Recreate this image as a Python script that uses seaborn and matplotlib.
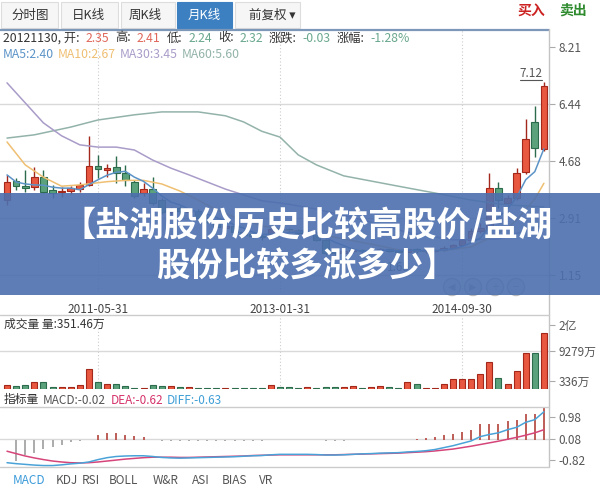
import numpy as np
import pandas as pd
import matplotlib
matplotlib.use("Agg")
import matplotlib.pyplot as plt
import matplotlib.colors as mcolors
from matplotlib.patches import Rectangle, Circle
from matplotlib.lines import Line2D
import seaborn as sns

# ---------------- data (monthly K-line, 2010-07 .. 2015-06) ----------------
open_ = [3.47, 4.06, 3.90, 3.87, 4.18, 3.78, 3.72, 3.75, 3.81, 3.94,
         4.53, 4.40, 4.49, 4.31, 4.03, 3.69, 3.81, 3.47, 3.10, 3.22,
         3.10, 3.12, 2.92, 2.80, 2.60, 2.66, 2.48, 2.42, 2.35, 2.32,
         2.56, 2.58, 2.54, 2.45, 2.48, 2.23, 1.88, 1.84, 1.88, 1.93,
         1.88, 1.92, 1.96, 1.90, 1.85, 1.95, 1.88, 1.90, 1.92, 2.00,
         2.08, 2.23, 2.50, 2.56, 3.84, 3.38, 3.53, 4.34, 5.89, 5.05]
high = [4.25, 4.15, 4.40, 4.49, 4.40, 3.94, 3.87, 3.90, 4.03, 5.46,
        4.87, 4.59, 4.84, 4.56, 4.09, 4.00, 4.18, 3.53, 3.25, 3.30,
        3.22, 3.18, 2.98, 2.84, 2.74, 2.70, 2.53, 2.46, 2.41, 2.62,
        2.60, 2.62, 2.58, 2.55, 2.52, 2.28, 1.92, 1.95, 1.98, 1.97,
        1.96, 2.00, 2.00, 1.94, 2.00, 1.98, 1.95, 1.97, 2.05, 2.12,
        2.28, 2.60, 2.75, 4.31, 4.03, 3.62, 4.46, 5.98, 6.39, 7.12]
low = [3.32, 3.78, 3.72, 3.78, 3.69, 3.53, 3.56, 3.66, 3.72, 3.90,
       4.15, 4.18, 4.00, 3.90, 3.53, 3.60, 3.32, 3.04, 3.00, 3.05,
       3.02, 2.88, 2.75, 2.60, 2.55, 2.44, 2.36, 2.30, 2.24, 2.28,
       2.45, 2.48, 2.40, 2.40, 2.20, 1.78, 1.78, 1.80, 1.84, 1.83,
       1.84, 1.88, 1.86, 1.80, 1.65, 1.84, 1.84, 1.86, 1.88, 1.96,
       2.05, 2.20, 2.45, 2.50, 3.22, 3.30, 3.47, 4.28, 4.80, 4.99]
close = [4.03, 3.90, 3.84, 4.18, 3.72, 3.69, 3.75, 3.84, 3.94, 4.53,
         4.43, 4.46, 4.31, 4.09, 3.60, 3.81, 3.38, 3.10, 3.16, 3.13,
         3.16, 2.92, 2.80, 2.64, 2.66, 2.48, 2.40, 2.35, 2.32, 2.56,
         2.52, 2.54, 2.45, 2.50, 2.24, 1.83, 1.84, 1.90, 1.93, 1.88,
         1.92, 1.96, 1.90, 1.85, 1.95, 1.88, 1.91, 1.93, 2.00, 2.08,
         2.23, 2.50, 2.62, 3.84, 3.47, 3.53, 4.31, 5.36, 5.08, 7.00]
volume = [1080, 720, 1080, 1600, 1600, 460, 460, 460, 1080, 4770,
          1600, 1340, 1340, 720, 300, 300, 1080, 640, 640, 460,
          400, 300, 250, 250, 250, 250, 250, 250, 351.46, 900,
          390, 390, 260, 390, 260, 460, 460, 460, 640, 260,
          460, 640, 460, 260, 1680, 1340, 310, 310, 1160, 2450,
          2450, 2450, 3740, 6500, 2630, 1160, 4510, 8820, 8820, 13790]
ma5 = [4.25, 4.03, 3.97, 3.94, 3.93, 3.87, 3.84, 3.84, 3.79, 3.95,
       4.10, 4.24, 4.33, 4.36, 4.18, 4.05, 3.84, 3.60, 3.41, 3.32,
       3.19, 3.09, 3.03, 2.93, 2.84, 2.70, 2.60, 2.48, 2.40, 2.42,
       2.43, 2.46, 2.48, 2.51, 2.45, 2.31, 2.17, 2.06, 1.95, 1.88,
       1.89, 1.92, 1.92, 1.90, 1.92, 1.91, 1.90, 1.90, 1.93, 1.96,
       2.03, 2.15, 2.29, 2.65, 2.93, 3.19, 3.55, 4.10, 4.35, 5.06]
ma10_idx = [0, 2, 4, 6, 8, 11, 13, 15, 17, 19, 21, 23, 25, 27, 28, 29, 31,
            33, 35, 37, 39, 41, 43, 45, 47, 49, 51, 53, 54, 55, 56, 57, 58, 59]
ma10 = [5.27, 4.56, 4.18, 3.90, 3.94, 4.04, 4.08, 4.08, 3.97, 3.75, 3.47,
        3.17, 2.94, 2.77, 2.67, 2.63, 2.53, 2.48, 2.37, 2.27, 2.16, 2.05,
        1.93, 1.90, 1.91, 1.94, 2.02, 2.29, 2.45, 2.61, 2.85, 3.19, 3.50, 3.99]
ma30_idx = [0, 2, 4, 6, 8, 10, 12, 14, 16, 18, 20, 22, 24, 26, 28, 31, 34,
            39, 44, 49, 54, 59]
ma30 = [7.10, 6.48, 5.86, 5.46, 5.18, 5.11, 5.11, 5.02, 4.71, 4.46, 4.25,
        4.03, 3.81, 3.63, 3.45, 3.34, 3.19, 2.86, 2.47, 2.24, 2.26, 2.70]
ma60_idx = [0, 3, 7, 10, 14, 17, 21, 24, 26, 28, 30, 32, 34, 37, 40, 43,
            47, 51, 55, 59]
ma60 = [5.39, 5.49, 5.73, 5.95, 6.11, 6.20, 6.20, 6.08, 5.89, 5.60, 5.42,
        4.87, 4.56, 4.22, 4.06, 3.90, 3.69, 3.47, 3.32, 3.26]
macd = [np.nan, -0.84, -0.59, -0.53, -0.35, -0.28, -0.17, -0.07, -0.03, 0.04,
        0.24, 0.31, 0.31, 0.24, 0.17, 0.14, 0.03, -0.03, -0.04, -0.03,
        -0.03, -0.03, -0.02, -0.03, -0.02, -0.02, -0.03, -0.02, -0.02, 0.03,
        0.04, 0.03, 0.02, 0.02, 0.02, -0.02, -0.02, -0.02, 0.02, 0.02,
        0.03, 0.03, 0.03, 0.03, 0.04, 0.06, 0.10, 0.14, 0.24, 0.28,
        0.35, 0.45, 0.70, 0.70, 0.70, 0.81, 0.84, 1.09, 1.09, 1.39]
dea = [-0.45, -0.55, -0.65, -0.73, -0.80, -0.86, -0.90, -0.93, -0.94, -0.93,
       -0.90, -0.86, -0.82, -0.78, -0.75, -0.72, -0.70, -0.70, -0.70, -0.71,
       -0.71, -0.70, -0.69, -0.68, -0.67, -0.66, -0.65, -0.63, -0.62, -0.61,
       -0.60, -0.60, -0.60, -0.60, -0.60, -0.60, -0.60, -0.59, -0.58, -0.57,
       -0.56, -0.55, -0.54, -0.53, -0.51, -0.49, -0.47, -0.44, -0.40, -0.36,
       -0.30, -0.24, -0.17, -0.10, -0.03, 0.05, 0.13, 0.22, 0.32, 0.45]
dif = [-0.93, -0.97, -1.00, -1.03, -1.05, -1.05, -1.02, -0.98, -0.95, -0.90,
       -0.80, -0.72, -0.67, -0.65, -0.64, -0.64, -0.67, -0.71, -0.73, -0.74,
       -0.73, -0.72, -0.71, -0.70, -0.69, -0.68, -0.66, -0.64, -0.63, -0.60,
       -0.58, -0.58, -0.58, -0.58, -0.59, -0.61, -0.61, -0.60, -0.58, -0.56,
       -0.55, -0.53, -0.52, -0.51, -0.48, -0.46, -0.43, -0.38, -0.30, -0.22,
       -0.12, -0.02, 0.16, 0.25, 0.32, 0.45, 0.55, 0.76, 0.87, 1.20]

date_idx = [10, 30, 50]
date_labels = ["2011-05-31", "2013-01-31", "2014-09-30"]
price_ticks = [1.15, 2.91, 4.68, 6.44, 8.21]
vol_tick_vals = [1950, 9279, 15630]
vol_tick_labels = ["336万", "9279万", "2亿"]
macd_ticks = [-0.82, 0.08, 0.98]
tabs = ["分时图", "日K线", "周K线", "月K线", "前复权 ▾"]
ind_tabs = ["MACD", "KDJ", "RSI", "BOLL", "W&R", "ASI", "BIAS", "VR"]
title_lines = ["【盐湖股份历史比较高股价/盐湖", "股份比较多涨多少】"]
max_label, min_label = "7.12", "1.65"

# ---------------- style ----------------
sns.set_theme(style="white")
plt.rcParams['font.family'] = ['Noto Sans CJK SC', 'DejaVu Sans']
plt.rcParams['axes.unicode_minus'] = False

UP_FILL, UP_EDGE = '#e8573f', '#a3271a'
DN_FILL, DN_EDGE = '#5aa17c', '#2c6b4b'
C_MA5, C_MA10, C_MA30, C_MA60 = '#5b93c7', '#efbf72', '#a99cc9', '#93b3aa'
GRID = '#d9d9d9'
TXT = '#333333'
LBL = '#555555'

W, H = 600, 491
fig = plt.figure(figsize=(6, 4.91), dpi=100)
fig.patch.set_facecolor('white')


def add_ax(l, t, r, b):
    return fig.add_axes([l / W, 1 - b / H, (r - l) / W, (b - t) / H])


def fx(px):
    return px / W


def fy(py):
    return 1 - py / H


axp = add_ax(0, 30, 549, 292)
axv = add_ax(0, 315, 549, 389)
axm = add_ax(0, 407, 549, 467)
XLIM = (-0.77, 59.56)

n = len(close)
x = np.arange(n)
o = np.array(open_); c = np.array(close)
hi = np.array(high); lo = np.array(low)
up = c >= o
fill = np.where(up, UP_FILL, DN_FILL)
edge = np.where(up, UP_EDGE, DN_EDGE)

# ---------------- price panel ----------------
for v in price_ticks[:-1]:
    axp.axhline(v, color=GRID, lw=1, zorder=1)
for k in date_idx:
    axp.axvline(k, color='#cccccc', lw=0.8, ls=(0, (1, 2)), zorder=1)
axp.vlines(x, lo, hi, colors=edge, lw=1.0, zorder=3)
axp.bar(x, np.maximum(np.abs(c - o), 0.02), bottom=np.minimum(o, c), width=0.74,
        color=fill, edgecolor=edge, linewidth=0.8, zorder=4)
sns.lineplot(x=ma60_idx, y=ma60, ax=axp, color=C_MA60, lw=1.1, zorder=5)
sns.lineplot(x=ma30_idx, y=ma30, ax=axp, color=C_MA30, lw=1.1, zorder=5)
sns.lineplot(x=ma10_idx, y=ma10, ax=axp, color=C_MA10, lw=1.1, zorder=5)
sns.lineplot(x=x, y=ma5, ax=axp, color=C_MA5, lw=1.1, zorder=6)
axp.set_xlim(*XLIM)
axp.set_ylim(0.624, 8.736)
axp.set_yticks(price_ticks)
axp.set_yticklabels([f"{v:.2f}" for v in price_ticks])
axp.yaxis.tick_right()
axp.set_xticks(date_idx)
axp.set_xticklabels(date_labels)
axp.tick_params(axis='x', length=0, pad=8, labelsize=8.5, labelcolor='#444444')
axp.tick_params(axis='y', length=4, width=0.8, color='#aaaaaa', pad=3,
                labelsize=8.5, labelcolor=LBL, direction='out')
axp.set_xlabel(''); axp.set_ylabel('')
for s in axp.spines.values():
    s.set_visible(False)

imax = int(np.argmax(hi)); imin = int(np.argmin(lo))
axp.annotate(max_label, xy=(imax, hi[imax]), xytext=(-13, 9), textcoords='offset pixels',
             ha='center', va='center', fontsize=8.5, color=LBL, zorder=7)
axp.annotate(min_label, xy=(imin, lo[imin]), xytext=(-9, -9), textcoords='offset pixels',
             ha='center', va='center', fontsize=8.5, color=LBL, zorder=7)

# ---------------- volume panel ----------------
vdf = pd.DataFrame({'i': x, 'vol': volume, 'dir': np.where(up, 'up', 'down')})
axv.axhline(vol_tick_vals[1], color=GRID, lw=1, zorder=0)
for k in date_idx:
    axv.axvline(k, color='#cccccc', lw=0.8, ls=(0, (1, 2)), zorder=0)
sns.barplot(data=vdf, x='i', y='vol', hue='dir', palette={'up': UP_FILL, 'down': DN_FILL},
            dodge=False, native_scale=True, width=0.66, legend=False, ax=axv,
            saturation=1, errorbar=None, linewidth=0.8, edgecolor='k', zorder=3)
for p in axv.patches:
    fc = mcolors.to_hex(p.get_facecolor())
    p.set_edgecolor(UP_EDGE if fc == UP_FILL else DN_EDGE)
axv.set_xlim(*XLIM)
axv.set_ylim(0, 18070)
axv.set_xticks([])
axv.set_yticks(vol_tick_vals)
axv.set_yticklabels(vol_tick_labels)
axv.yaxis.tick_right()
axv.tick_params(axis='y', length=4, width=0.8, color='#aaaaaa', pad=3,
                labelsize=8.5, labelcolor=LBL, direction='out')
axv.set_xlabel(''); axv.set_ylabel('')
for s in axv.spines.values():
    s.set_visible(False)

# ---------------- MACD panel ----------------
mac = np.array(macd)
ok = ~np.isnan(mac)
axm.axhline(macd_ticks[1], color=GRID, lw=1, zorder=0)
axm.vlines(x[ok], 0, mac[ok], colors=np.where(mac[ok] >= 0, '#b9504a', '#a5a5a5'),
           lw=1.3, zorder=2)
sns.lineplot(x=x, y=dea, ax=axm, color='#d6457a', lw=1.1, zorder=3)
sns.lineplot(x=x, y=dif, ax=axm, color='#4aa3d8', lw=1.1, zorder=3)
axm.set_xlim(*XLIM)
axm.set_ylim(-1.11, 1.40)
axm.set_xticks([])
axm.set_yticks(macd_ticks)
axm.set_yticklabels([f"{v:.2f}" for v in macd_ticks])
axm.yaxis.tick_right()
axm.tick_params(axis='y', length=4, width=0.8, color='#aaaaaa', pad=3,
                labelsize=8.5, labelcolor=LBL, direction='out')
axm.set_xlabel(''); axm.set_ylabel('')
for s in axm.spines.values():
    s.set_visible(False)

# ---------------- frame lines ----------------
fig.add_artist(Line2D([0, fx(549)], [fy(29.5), fy(29.5)], transform=fig.transFigure,
                      color='#7d97b8', lw=1.6, zorder=2))
fig.add_artist(Line2D([fx(549), fx(549)], [fy(29), fy(467)], transform=fig.transFigure,
                      color='#c4c4c4', lw=1, zorder=2))
for yy in (315, 407, 467):
    fig.add_artist(Line2D([0, fx(549)], [fy(yy), fy(yy)], transform=fig.transFigure,
                          color='#cccccc', lw=1, zorder=2))

# underline of the max label
fig.canvas.draw()
px, py = axp.transData.transform((imax, hi[imax]))
fig.add_artist(Line2D([px - 24, px - 2], [py + 2.5, py + 2.5], transform=None,
                      color=LBL, lw=0.8, zorder=7))

# ---------------- tabs ----------------
tab_boxes = [(1, 58), (61, 118), (121, 175), (177, 232), (235, 300)]
tab_cx = [30, 88, 145, 204, 272]
for k, ((l, r), name) in enumerate(zip(tab_boxes, tabs)):
    sel = (k == 3)
    fig.add_artist(Rectangle((fx(l), fy(28)), (r - l) / W, 26 / H, transform=fig.transFigure,
                             facecolor='#3c80c2' if sel else '#f6f6f6',
                             edgecolor='#3c80c2' if sel else '#dddddd', lw=0.8, zorder=1))
    fig.text(fx(tab_cx[k]), fy(15), name, ha='center', va='center', fontsize=9,
             color='white' if sel else TXT, zorder=3)
fig.text(fx(531), fy(11), "买入", ha='center', va='center', fontsize=10, fontweight='bold',
         color='#cc2222')
fig.text(fx(573), fy(11), "卖出", ha='center', va='center', fontsize=10, fontweight='bold',
         color='#2e8b2e')

# ---------------- sequential coloured texts ----------------
R = fig.canvas.get_renderer()


def seq_text(x0, yc, parts, size=8.5):
    xx = x0
    for s, col, gap in parts:
        xx += gap
        t = fig.text(fx(xx), fy(yc), s, color=col, fontsize=size, ha='left', va='center', zorder=4)
        xx += t.get_window_extent(renderer=R).width


D, RD, GR = TXT, '#e0675a', '#6aa88e'
seq_text(3, 38, [("20121130, 开:", D, 0), ("2.35", RD, 6), ("高:", D, 6), ("2.41", RD, 6),
                 ("低:", D, 6), ("2.24", GR, 6), ("收:", D, 6), ("2.32", GR, 6),
                 ("涨跌:", D, 6), ("-0.03", GR, 6), ("涨幅:", D, 6), ("-1.28%", GR, 6)],
         size=8.8)
seq_text(3, 55, [("MA5:2.40", C_MA5, 0), ("MA10:2.67", C_MA10, 4),
                 ("MA30:3.45", C_MA30, 4), ("MA60:5.60", C_MA60, 4)], size=8.8)
seq_text(4, 324, [("成交量 量:351.46万", D, 0)])
seq_text(4, 400, [("指标量", D, 0), ("MACD:-0.02", LBL, 4), ("DEA:-0.62", '#d6336c', 4),
                  ("DIFF:-0.63", '#3f9fd6', 4)])
ind_x = [13, 56, 82, 109, 153, 192, 222, 259]
for k, (name, xx) in enumerate(zip(ind_tabs, ind_x)):
    fig.text(fx(xx), fy(480), name, ha='left', va='center', fontsize=8.5,
             color='#3a9ad9' if k == 0 else LBL)

# ---------------- navigation buttons (under banner) ----------------
for bx, sym in zip([452, 473, 495, 516], ["◀", "▶", "+", "−"]):
    fig.add_artist(Circle((bx, H - 287), 8.5, transform=None, facecolor='#eeeeee',
                          edgecolor='#bbbbbb', lw=1, zorder=8))
    fig.text(fx(bx), fy(287), sym, ha='center', va='center', fontsize=7, color='#aaaaaa',
             family=['DejaVu Sans'], zorder=9)

# ---------------- banner ----------------
fig.add_artist(Rectangle((0, fy(295)), 1, (295 - 193) / H, transform=fig.transFigure,
                         facecolor='#4c6fae', edgecolor='none', alpha=0.9, zorder=10))
fig.text(fx(62), fy(225), title_lines[0], ha='left', va='center', fontsize=24.6,
         fontweight='bold', color='white', zorder=11)
fig.text(fx(156), fy(267), title_lines[1], ha='left', va='center', fontsize=24,
         fontweight='bold', color='white', zorder=11)

fig.savefig("out.png", dpi=100, facecolor='white')
